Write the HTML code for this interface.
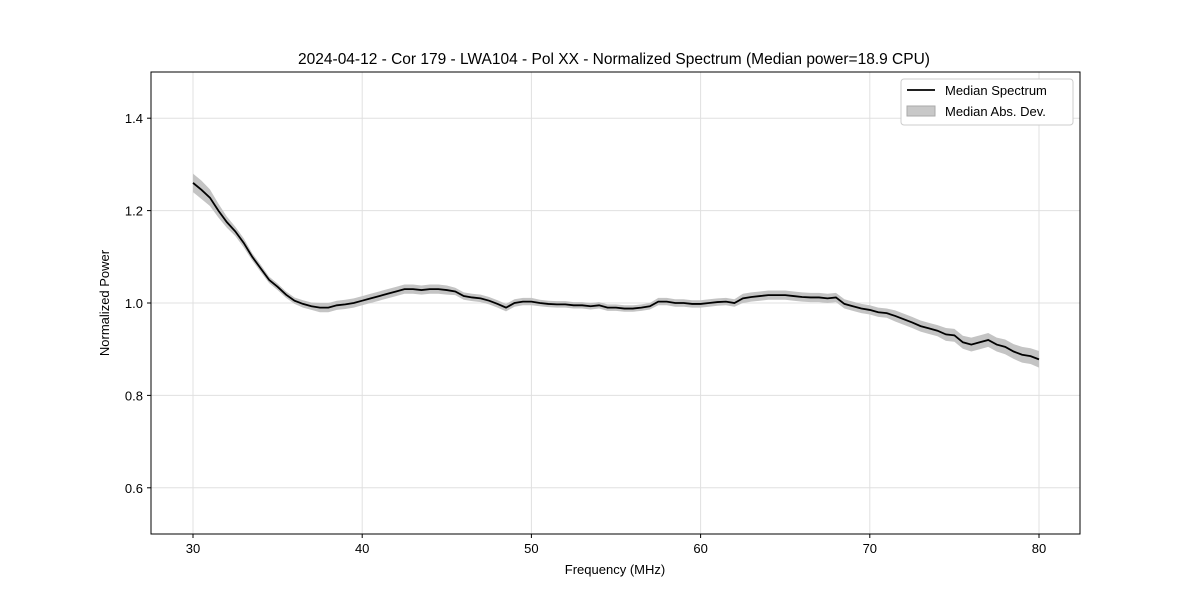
<!DOCTYPE html>
<html><head><meta charset="utf-8"><style>
body{margin:0;background:#fff;}
text{font-family:"Liberation Sans","DejaVu Sans",sans-serif;}
</style></head><body>
<svg id="chart" width="1200" height="600" viewBox="0 0 1200 600" xmlns="http://www.w3.org/2000/svg">
<rect width="1200" height="600" fill="#fff"/>
<g id="grid"></g>
<g id="series"></g>
<rect x="151" y="72" width="929" height="462" fill="none" stroke="#000" stroke-width="1"/>
<g id="axes"></g>
<text x="614" y="64" text-anchor="middle" font-size="15.5">2024-04-12 - Cor 179 - LWA104 - Pol XX - Normalized Spectrum (Median power=18.9 CPU)</text>
<text x="615" y="574" text-anchor="middle" font-size="13">Frequency (MHz)</text>
<text transform="translate(109,303) rotate(-90)" text-anchor="middle" font-size="13">Normalized Power</text>
<g>
<rect x="901" y="79" width="172" height="46" rx="3" fill="#fff" stroke="#ccc"/>
<line x1="907" y1="90" x2="935" y2="90" stroke="#000" stroke-width="1.8"/>
<text x="945" y="95" font-size="13">Median Spectrum</text>
<rect x="907" y="106" width="28" height="10" fill="#c8c8c8" stroke="#aaa"/>
<text x="945" y="116" font-size="13">Median Abs. Dev.</text>
</g>
</svg>
<script>
const freqs=[30,30.5,31,31.5,32,32.5,33,33.5,34,34.5,35,35.5,36,36.5,37,37.5,38,38.5,39,39.5,40,40.5,41,41.5,42,42.5,43,43.5,44,44.5,45,45.5,46,46.5,47,47.5,48,48.5,49,49.5,50,50.5,51,51.5,52,52.5,53,53.5,54,54.5,55,55.5,56,56.5,57,57.5,58,58.5,59,59.5,60,60.5,61,61.5,62,62.5,63,63.5,64,64.5,65,65.5,66,66.5,67,67.5,68,68.5,69,69.5,70,70.5,71,71.5,72,72.5,73,73.5,74,74.5,75,75.5,76,76.5,77,77.5,78,78.5,79,79.5,80];
const median=[1.26,1.245,1.228,1.2,1.175,1.155,1.13,1.10,1.075,1.05,1.035,1.018,1.005,0.998,0.993,0.99,0.99,0.995,0.997,1.0,1.005,1.01,1.015,1.02,1.025,1.03,1.03,1.028,1.03,1.03,1.028,1.025,1.015,1.012,1.01,1.005,0.998,0.99,1.0,1.003,1.003,1.0,0.998,0.997,0.997,0.995,0.995,0.993,0.995,0.99,0.99,0.988,0.988,0.99,0.993,1.003,1.003,1.0,1.0,0.998,0.998,1.0,1.002,1.003,1.0,1.01,1.013,1.015,1.017,1.017,1.017,1.015,1.013,1.012,1.012,1.01,1.012,0.998,0.993,0.988,0.985,0.98,0.978,0.972,0.965,0.958,0.95,0.945,0.94,0.932,0.93,0.915,0.91,0.915,0.92,0.91,0.905,0.895,0.888,0.885,0.878];
const madDev=[0.02,0.02,0.018,0.015,0.012,0.01,0.01,0.008,0.008,0.007,0.007,0.007,0.007,0.008,0.008,0.01,0.01,0.01,0.01,0.01,0.01,0.01,0.01,0.01,0.01,0.01,0.01,0.01,0.01,0.01,0.01,0.008,0.008,0.008,0.008,0.008,0.008,0.008,0.008,0.008,0.008,0.007,0.007,0.007,0.007,0.007,0.007,0.007,0.007,0.007,0.007,0.007,0.007,0.007,0.007,0.008,0.008,0.008,0.008,0.008,0.008,0.008,0.008,0.008,0.008,0.01,0.01,0.01,0.01,0.01,0.01,0.01,0.01,0.01,0.01,0.01,0.01,0.01,0.01,0.01,0.01,0.01,0.01,0.012,0.012,0.012,0.012,0.012,0.012,0.014,0.014,0.014,0.015,0.015,0.015,0.015,0.016,0.016,0.017,0.017,0.018];
const xTicks=[30,40,50,60,70,80];
const yTicks=[0.6,0.8,1.0,1.2,1.4];
const yTickLabels=["0.6","0.8","1.0","1.2","1.4"];
const NS="http://www.w3.org/2000/svg";
const xS=v=>193+(v-30)*(1039-193)/50;
const yS=v=>534-(v-0.5)*(462/1.0);
function mk(tag,attrs,parent){const e=document.createElementNS(NS,tag);for(const k in attrs)e.setAttribute(k,attrs[k]);parent.appendChild(e);return e;}
const grid=document.getElementById('grid'),axes=document.getElementById('axes'),ser=document.getElementById('series');
xTicks.forEach(t=>{const x=xS(t);
 const g=mk('line',{x1:x,x2:x,y1:72,y2:534,stroke:'#e0e0e0'},grid);
 
 
 const tk=mk('line',{x1:x,x2:x,y1:534,y2:538,stroke:'#000'},axes);
 
 
 const tx=mk('text',{x:x,y:553,'text-anchor':'middle','font-size':13},axes);tx.textContent=t;
 
 
});
yTicks.forEach((t,i)=>{const y=yS(t);
 const g=mk('line',{x1:151,x2:1080,y1:y,y2:y,stroke:'#e0e0e0'},grid);
 
 
 const tk=mk('line',{x1:147,x2:151,y1:y,y2:y,stroke:'#000'},axes);
 
 
 const tx=mk('text',{x:143,y:y+5,'text-anchor':'end','font-size':13},axes);tx.textContent=yTickLabels[i];
 
 
});
let up=freqs.map((f,i)=>xS(f)+','+yS(median[i]+madDev[i]));
let dn=freqs.map((f,i)=>xS(f)+','+yS(median[i]-madDev[i])).reverse();
const band=mk('polygon',{points:up.concat(dn).join(' '),fill:'#c4c4c4'},ser);


const line=mk('polyline',{points:freqs.map((f,i)=>xS(f)+','+yS(median[i])).join(' '),fill:'none',stroke:'#000','stroke-width':1.8},ser);


</script>
</body></html>
